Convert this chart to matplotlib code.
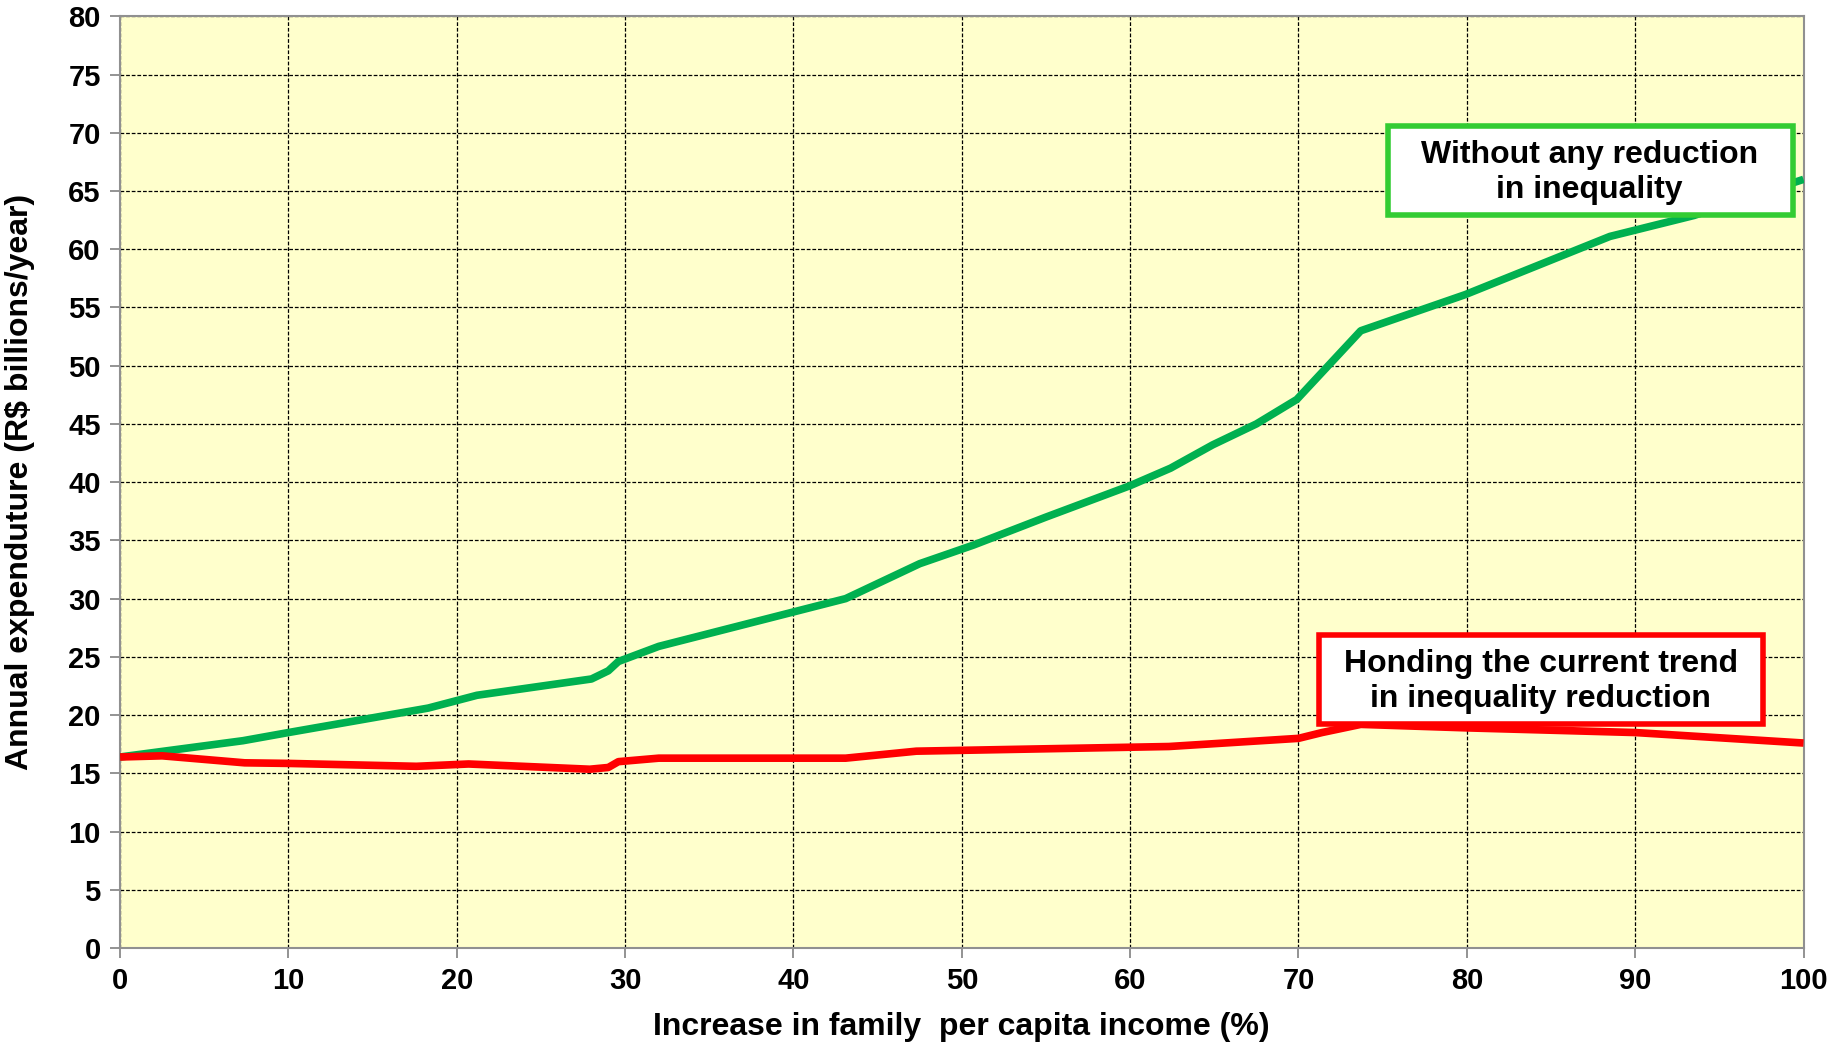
import matplotlib
matplotlib.use("Agg")
import matplotlib.pyplot as plt
from matplotlib.patches import Rectangle

# data
income_increase_green = [0, 7.3, 10, 18.3, 21.2, 28.0, 29.0, 29.6, 32.0, 43.1, 47.5, 50.7,
                         55.0, 60.0, 62.4, 64.9, 67.5, 69.9, 73.7, 79.9, 88.5, 93.5, 100]
no_reduction = [16.4, 17.8, 18.5, 20.6, 21.7, 23.1, 23.8, 24.6, 25.9, 30.0, 33.0, 34.6,
                37.0, 39.7, 41.2, 43.2, 45.0, 47.1, 53.0, 56.1, 61.1, 62.9, 66.0]

income_increase_red = [0, 2.5, 7.4, 10, 17.6, 20.7, 27.9, 29.0, 29.6, 32.0, 43.1, 47.3,
                       62.3, 70.0, 71.4, 73.7, 80, 90, 100]
current_trend = [16.4, 16.5, 15.9, 15.85, 15.6, 15.8, 15.35, 15.5, 16.0, 16.3, 16.3, 16.9,
                 17.3, 18.0, 18.5, 19.2, 18.9, 18.5, 17.6]

x_ticks = list(range(0, 101, 10))
y_ticks = list(range(0, 81, 5))

label_green = "Without any reduction\nin inequality"
label_red = "Honding the current trend\nin inequality reduction"

plt.rcParams['font.family'] = ['Liberation Sans', 'DejaVu Sans']
plt.rcParams['font.weight'] = 'bold'

fig = plt.figure(figsize=(18.28, 10.46), dpi=100)
ax = fig.add_axes([0.0657, 0.0937, 0.9209, 0.8907])
ax.set_facecolor('#FFFFCC')

ax.plot(income_increase_green, no_reduction, color='#00B050', linewidth=5.5,
        solid_joinstyle='round', solid_capstyle='butt', zorder=3)
ax.plot(income_increase_red, current_trend, color='#FF0000', linewidth=5.5,
        solid_joinstyle='round', solid_capstyle='butt', zorder=3)

ax.set_xlim(0, 100)
ax.set_ylim(0, 80)
ax.set_xticks(x_ticks)
ax.set_yticks(y_ticks)
ax.tick_params(axis='both', direction='out', length=7, width=1.2, color='#808080',
               labelsize=21, pad=7)
for lbl in ax.get_xticklabels() + ax.get_yticklabels():
    lbl.set_fontweight('bold')

ax.grid(True, color='black', linestyle=(0, (3, 1.5)), linewidth=0.9, zorder=1)
ax.set_axisbelow(True)
for side in ['left', 'bottom', 'top', 'right']:
    ax.spines[side].set_color('#909090')
    ax.spines[side].set_linewidth(1.5)

ax.set_xlabel('Increase in family  per capita income (%)', fontsize=23,
              fontweight='bold', labelpad=12)
ax.set_ylabel('Annual expenduture (R$ billions/year)', fontsize=23,
              fontweight='bold', labelpad=24)

# label boxes
ax.add_patch(Rectangle((75.3, 62.9), 24.1, 7.7, facecolor='white', edgecolor='#33CC33',
                       linewidth=4, zorder=4))
ax.text(87.3, 66.6, label_green, ha='center', va='center', fontsize=23,
        fontweight='bold', linespacing=1.2, zorder=5)
ax.add_patch(Rectangle((71.2, 19.2), 26.4, 7.7, facecolor='white', edgecolor='#FF0000',
                       linewidth=4, zorder=4))
ax.text(84.4, 22.9, label_red, ha='center', va='center', fontsize=23,
        fontweight='bold', linespacing=1.2, zorder=5)

fig.savefig('out.png', dpi=100, facecolor='white')
